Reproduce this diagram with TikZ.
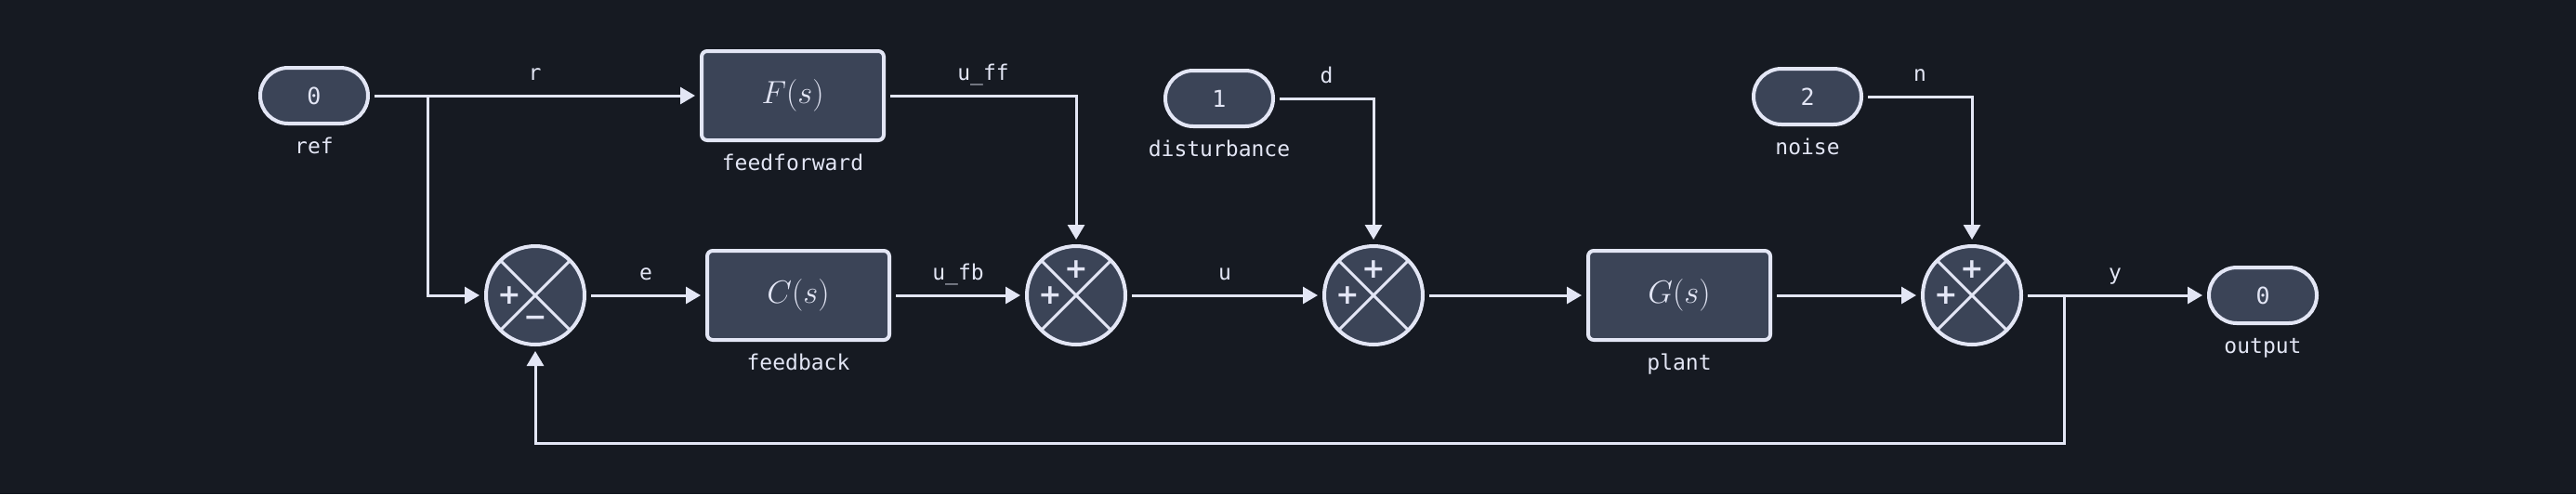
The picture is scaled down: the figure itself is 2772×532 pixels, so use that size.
\documentclass[tikz,border=0pt]{standalone}
\usepackage{fontspec}
\setmonofont{DejaVu Sans Mono}
\newfontfamily\signfont{DejaVu Sans}
\usetikzlibrary{arrows.meta,positioning,calc}
\definecolor{bgcol}{HTML}{161A22}
\definecolor{boxfill}{HTML}{3B4457}
\definecolor{wirecol}{HTML}{E3E6F5}

\begin{document}
\begin{tikzpicture}[
  x=0.5pt, y=-0.5pt,
  font=\fontsize{11.5}{14}\selectfont\ttfamily,
  text=wirecol,
  pill/.style={draw=wirecol, fill=boxfill, line width=2pt, rounded corners=15pt, minimum width=58pt, minimum height=30pt, outer sep=3.5pt, font=\fontsize{12.5}{15}\selectfont\ttfamily},
  blk/.style={draw=wirecol, fill=boxfill, line width=2pt, rounded corners=3pt, minimum width=98pt, minimum height=48pt, outer sep=3.5pt, font=\fontsize{16}{19}\selectfont},
  sumjn/.style={draw=wirecol, fill=boxfill, line width=2pt, circle, minimum size=53pt, inner sep=0pt, outer sep=3.5pt},
  link/.style={draw=wirecol, line width=1.5pt},
  sig/.style={link, -{Triangle[length=8pt,width=9pt]}},
  lab/.style={text height=8pt, text depth=2pt, inner sep=0pt},
  tag/.style={lab, yshift=11.5pt},
  sgn/.style={font=\signfont\fontsize{15}{15}\selectfont\bfseries, inner sep=0pt}
]
  \fill[bgcol] (0,0) rectangle (2772,532);
  \useasboundingbox (0,0) rectangle (2772,532);

  \foreach \n/\x/\y/\v/\t in {ref/338/103/0/ref, dist/1312/106/1/disturbance, noise/1945/104/2/noise, out/2435/318/0/output} {
    \node[pill] (\n) at (\x,\y) {\v};
    \node[lab] (\n-l) at (\x,\y+56) {\t};
  }
  \foreach \n/\x/\y/\f/\t in {ff/853/103/F/feedforward, fb/859/318/C/feedback, plant/1807/318/G/plant} {
    \node[blk] (\n) at (\x,\y) {$\f(s)$};
    \node[lab] (\n-l) at (\x,\y+74) {\t};
  }
  \foreach \n/\x in {s1/576, s2/1158, s3/1478, s4/2122} {
    \node[sumjn] (\n) at (\x,318) {};
    \draw[link] ($(\n)+(45:26.5pt)$) -- ($(\n)+(225:26.5pt)$);
    \draw[link] ($(\n)+(135:26.5pt)$) -- ($(\n)+(315:26.5pt)$);
  }
  \node[sgn] (s1-p) at ($(s1)+(-14pt,0)$) {+};
  \node[sgn] (s1-m) at ($(s1)+(0,-14pt)$) {−};
  \foreach \n in {s2,s3,s4} {
    \node[sgn] (\n-a) at ($(\n)+(0,14pt)$) {+};
    \node[sgn] (\n-b) at ($(\n)+(-14pt,0)$) {+};
  }

  \coordinate (rtap) at (460,103);
  \coordinate (ytap) at (2221,318);
  \coordinate (ybot) at (2221,477);
  \draw[sig] (ref) -- node[tag] (lr) {r} (ff);
  \draw[sig] (rtap) |- (s1);
  \draw[sig] (ff) -| node[tag, pos=0.25] (luff) {u\_ff} (s2);
  \draw[sig] (s1) -- node[tag] (le) {e} (fb);
  \draw[sig] (fb) -- node[tag] (lufb) {u\_fb} (s2);
  \draw[sig] (s2) -- node[tag] (lu) {u} (s3);
  \draw[sig] (dist) -| node[tag, pos=0.25] (ld) {d} (s3);
  \draw[sig] (s3) -- (plant);
  \draw[sig] (plant) -- (s4);
  \draw[sig] (noise) -| node[tag, pos=0.25] (ln) {n} (s4);
  \draw[sig] (s4) -- node[tag] (ly) {y} (out);
  \draw[sig] (ytap) -- (ybot) -| (s1);
\end{tikzpicture}
\end{document}
